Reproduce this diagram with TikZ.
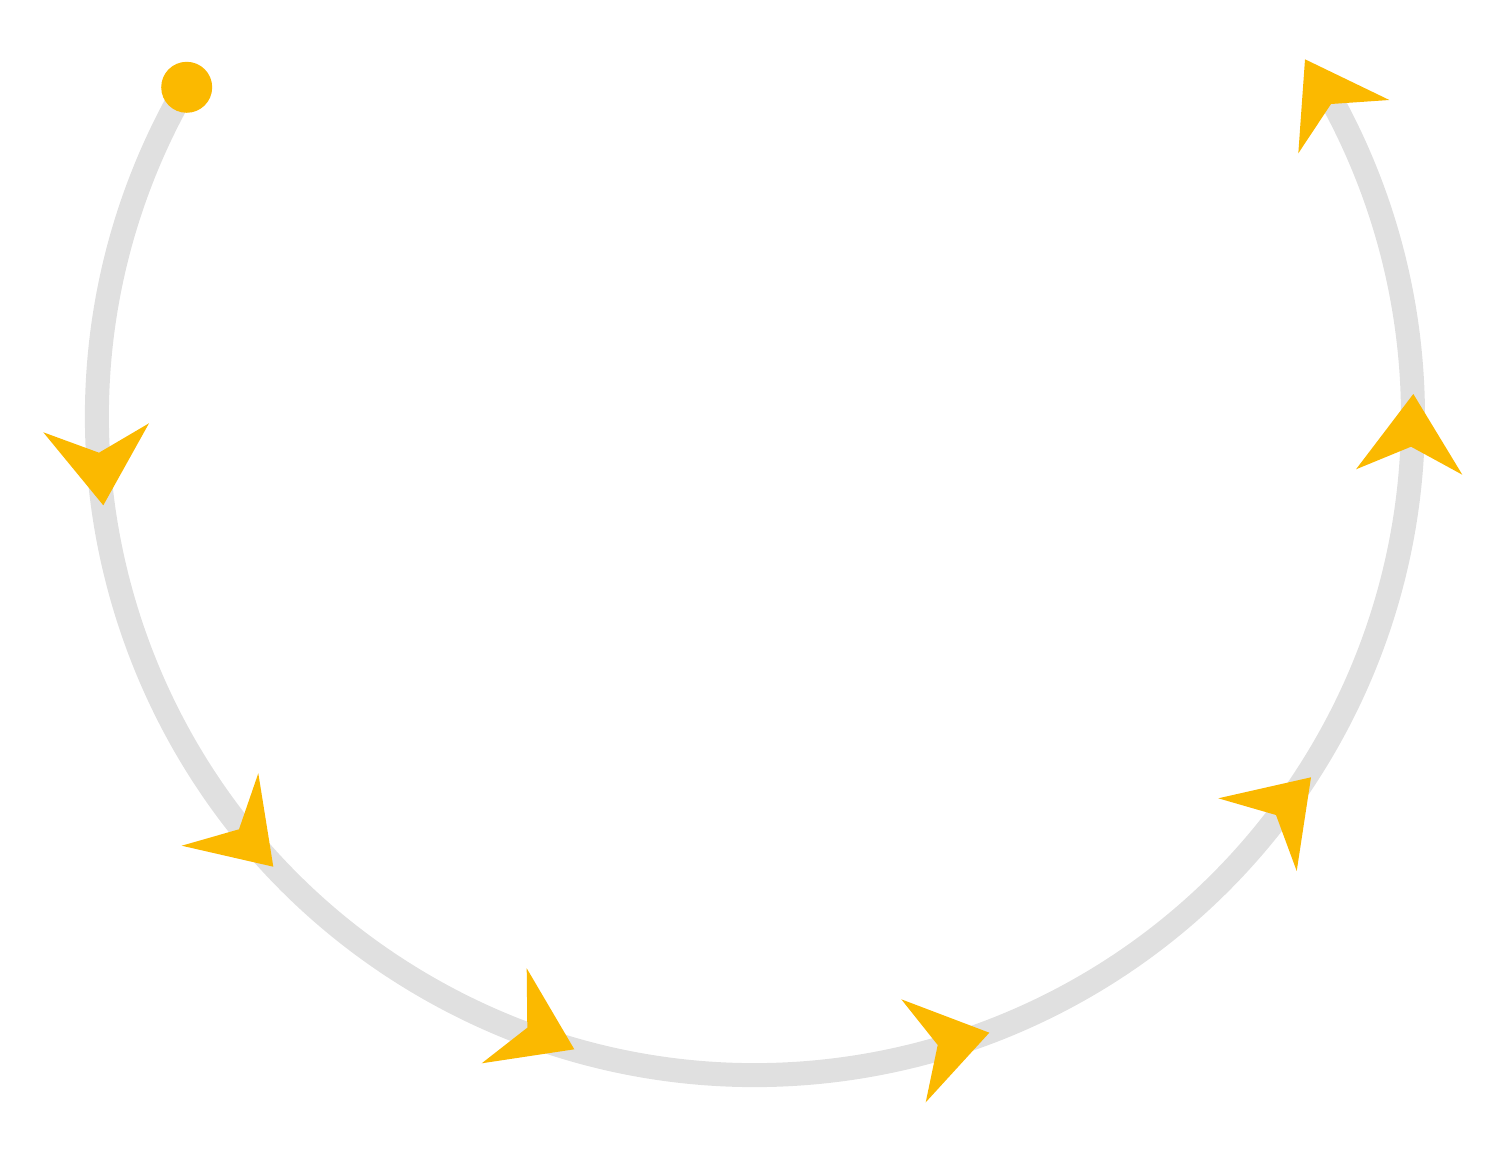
\documentclass[tikz,border=0pt]{standalone}
\usetikzlibrary{calc}
\definecolor{arcgray}{HTML}{E0E0E0}
\definecolor{arrowyellow}{HTML}{FBB900}
\begin{document}
\begin{tikzpicture}[x=0.02cm,y=-0.02cm,
  track/.style={draw=arcgray,line width=0.48cm},
  kite/.style={fill=arrowyellow,draw=none},
  startdot/.style={circle,fill=arrowyellow,minimum size=1.02cm,inner sep=0pt}]
\useasboundingbox (0,0) rectangle (1510,1162);
\coordinate (ctr) at (755,417);
\coordinate (arcstart) at ($(ctr)+(210:658)$);
\draw[track] (arcstart) arc[start angle=210,end angle=-29,radius=658];
\fill[kite] (43.3,432.3) -- (103.3,505.3) -- (149,423.3) -- (99,452.7) -- cycle;
\fill[kite] (258.3,773.3) -- (273.3,866.7) -- (181.7,845.7) -- (239,829.3) -- cycle;
\fill[kite] (526.7,968.3) -- (574.3,1049.3) -- (481.7,1063.3) -- (527.3,1027.7) -- cycle;
\fill[kite] (901.3,999.3) -- (989.3,1032.7) -- (925.7,1102.3) -- (937.7,1045) -- cycle;
\fill[kite] (1218.3,798.3) -- (1311,777.3) -- (1296.7,871) -- (1276,815) -- cycle;
\fill[kite] (1356,469.3) -- (1413.3,394) -- (1462.3,474.7) -- (1411,446.7) -- cycle;
\fill[kite] (1389.3,100) -- (1305,59.3) -- (1298.3,153.3) -- (1331,104) -- cycle;
\node[startdot] (start) at (186.7,87.3) {};
\end{tikzpicture}
\end{document}
